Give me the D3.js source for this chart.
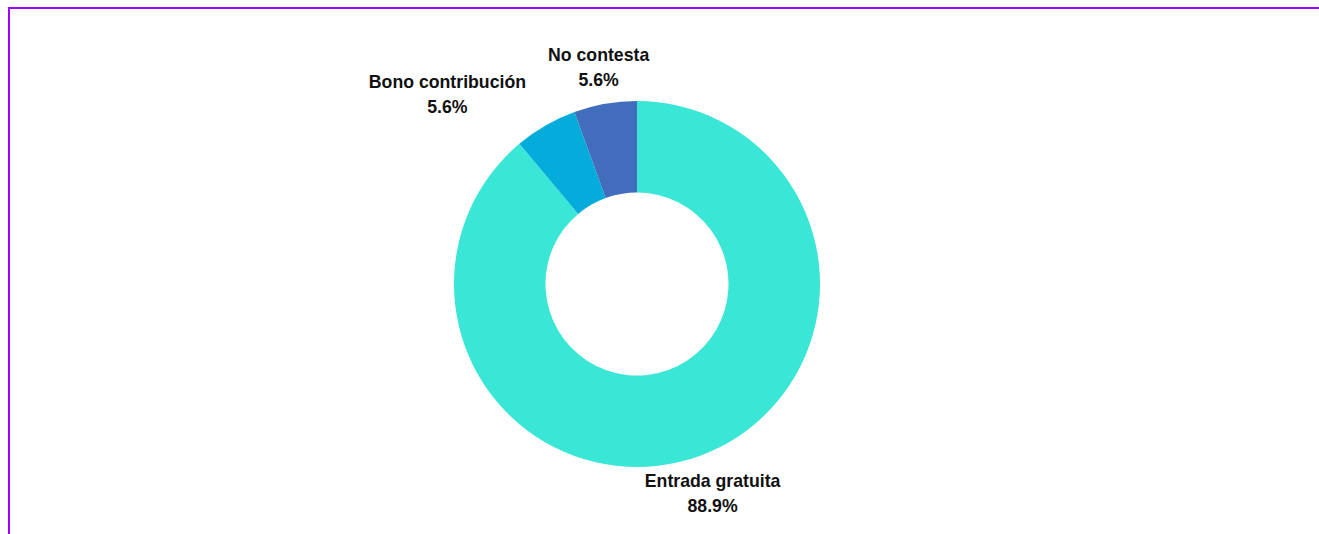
<!DOCTYPE html>
<html>
<head>
<meta charset="utf-8">
<script src="https://cdn.jsdelivr.net/npm/d3@7"></script>
<style>
    html, body { margin: 0; padding: 0; background: #fff; }
    #frame {
        position: absolute; left: 8px; top: 7px; width: 1311px; height: 527px;
        border-top: 2px solid #9d00ff; border-left: 2px solid #9d00ff;
    }
    svg { position: absolute; left: 0; top: 0; }
</style>
</head>
<body>
<div id="frame"></div>
<svg id="chart" width="1319" height="534"></svg>
<script>
const categories = ['Entrada gratuita', 'Bono contribución', 'No contesta'];
const counts = [16, 1, 1];
const colours = ['#3ae6d6', '#03acdb', '#426dbd'];

const WIDTH = 1319, HEIGHT = 534;
const CX = 637, CY = 284;
const OUTER = 183, INNER = 91.5, LABEL_R = 221;

const svg = d3.select('#chart');
const total = d3.sum(counts);
const data = categories.map((c, i) => ({ name: c, value: counts[i], colour: colours[i] }));

const pie = d3.pie().sort(null).value(d => d.value);
const arc = d3.arc().innerRadius(INNER).outerRadius(OUTER);
const labelArc = d3.arc().innerRadius(LABEL_R).outerRadius(LABEL_R);
const fmt = d3.format('.1%');

const g = svg.append('g').attr('transform', `translate(${CX},${CY})`);
const arcs = pie(data);

g.selectAll('path')
    .data(arcs)
    .join('path')
    .attr('d', arc)
    .attr('fill', d => d.data.colour);

// labels, with a simple horizontal push when two overlap
const labels = g.append('g')
    .attr('font-family', '"Liberation Sans", Arial, sans-serif')
    .attr('font-weight', 'bold')
    .attr('font-size', '17.7px')
    .attr('fill', '#111')
    .attr('text-anchor', 'middle')
    .selectAll('text')
    .data(arcs)
    .join('text')
    .attr('transform', d => 'translate(' + labelArc.centroid(d) + ')');

labels.append('tspan').attr('x', 0).attr('y', -5).text(d => d.data.name);
labels.append('tspan').attr('x', 0).attr('y', 20).text(d => fmt(d.data.value / total));

const boxes = [];
labels.each(function (d) {
    const b = this.getBBox();
    const c = labelArc.centroid(d);
    boxes.push({ node: this, x: c[0], y: c[1], x0: c[0] + b.x, x1: c[0] + b.x + b.width, y0: c[1] + b.y, y1: c[1] + b.y + b.height });
});
// process from top-most slice outward (last slices first, they sit near the top)
const GAP = 22;
for (let i = boxes.length - 2; i >= 0; i--) {
    const a = boxes[i], b = boxes[i + 1];
    const overlapY = a.y0 < b.y1 && a.y1 > b.y0;
    const overlapX = a.x0 < b.x1 + GAP && a.x1 > b.x0 - GAP;
    if (overlapY && overlapX && a.x < 0) {
        const shift = a.x1 - (b.x0 - GAP);
        a.x -= shift; a.x0 -= shift; a.x1 -= shift;
        d3.select(a.node).attr('transform', `translate(${a.x},${a.y})`);
    }
}
</script>
</body>
</html>
